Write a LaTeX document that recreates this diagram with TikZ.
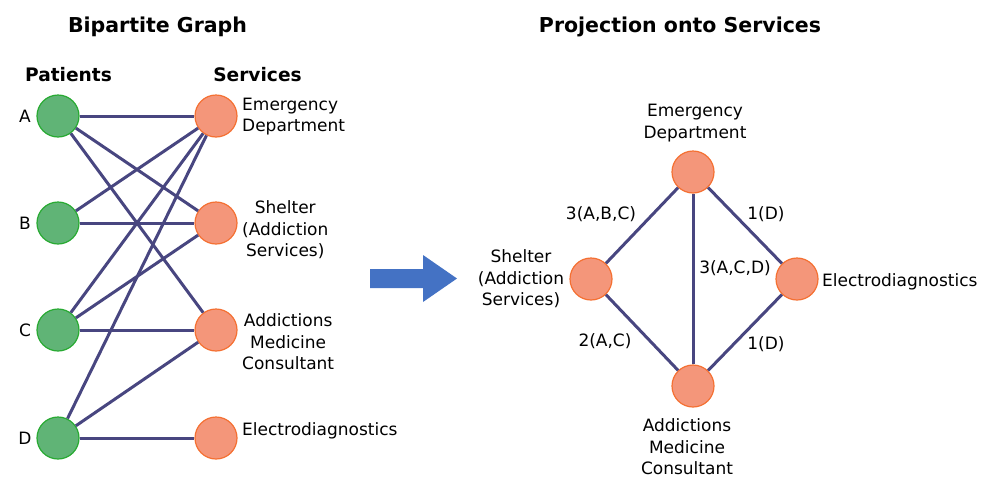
\documentclass[tikz,border=0pt]{standalone}
\usepackage{fontspec}
\setmainfont{DejaVu Sans}

\definecolor{edgeblue}{RGB}{72,70,128}
\definecolor{patfill}{RGB}{96,180,118}
\definecolor{patline}{RGB}{40,170,50}
\definecolor{servfill}{RGB}{244,150,122}
\definecolor{servline}{RGB}{244,112,50}
\definecolor{arrowblue}{RGB}{68,114,196}

\tikzset{
    patient/.style={circle, fill=patfill, draw=patline, line width=1.2pt, minimum size=42pt, inner sep=0pt},
    service/.style={circle, fill=servfill, draw=servline, line width=1.2pt, minimum size=42pt, inner sep=0pt},
    link/.style={draw=edgeblue, line width=3pt},
    lbl/.style={font=\fontsize{17}{21.5}\selectfont, inner sep=0pt},
    heading/.style={font=\bfseries\fontsize{18.6}{22}\selectfont, inner sep=0pt},
    title/.style={font=\bfseries\fontsize{20.5}{24}\selectfont, inner sep=0pt, anchor=base}
}

\begin{document}
\begin{tikzpicture}[x=1pt, y=-1pt]
    \useasboundingbox (0,0) rectangle (987,477);

    % Headings
    \node[title] (htitleL) at (157.5,32) {Bipartite Graph};
    \node[title] (htitleR) at (680,32) {Projection onto Services};
    \node[heading] (hpat) at (68.5,75) {Patients};
    \node[heading] (hserv) at (257.5,75) {Services};

    % Patients
    \node[patient] (pa) at (58,116) {};
    \node[patient] (pb) at (58,223) {};
    \node[patient] (pc) at (58,330) {};
    \node[patient] (pd) at (58,438) {};
    \node[lbl] (la) at (25,116) {A};
    \node[lbl] (lb) at (25,223) {B};
    \node[lbl] (lc) at (25,330) {C};
    \node[lbl] (ld) at (25,438) {D};

    % Services
    \node[service] (sed) at (216,116) {};
    \node[service] (ssh) at (216,223) {};
    \node[service] (sam) at (216,330) {};
    \node[service] (sel) at (216,438) {};
    \node[lbl, anchor=west, align=left] (ted) at (242,116.5) {Emergency\\Department};
    \node[lbl, anchor=west, align=center] (tsh) at (242,230) {Shelter\\(Addiction\\Services)};
    \node[lbl, anchor=west, align=center] (tam) at (242,342) {Addictions\\Medicine\\Consultant};
    \node[lbl, anchor=west] (tel) at (242,431) {Electrodiagnostics};

    % Bipartite edges
    \draw[link] (pa) -- (sed);
    \draw[link] (pa) -- (ssh);
    \draw[link] (pa) -- (sam);
    \draw[link] (pb) -- (sed);
    \draw[link] (pb) -- (ssh);
    \draw[link] (pc) -- (sed);
    \draw[link] (pc) -- (ssh);
    \draw[link] (pc) -- (sam);
    \draw[link] (pd) -- (sed);
    \draw[link] (pd) -- (sam);
    \draw[link] (pd) -- (sel);

    % Arrow
    \fill[arrowblue] (370,269) -- (423,269) -- (423,255) -- (457,278.5)
        -- (423,302) -- (423,288) -- (370,288) -- cycle;

    % Projection
    \node[service] (ped) at (693,172) {};
    \node[service] (psh) at (591,279) {};
    \node[service] (pel) at (797,279) {};
    \node[service] (pam) at (693,386) {};
    \node[lbl, align=center] (qed) at (695,123) {Emergency\\Department};
    \node[lbl, align=center] (qsh) at (521,279) {Shelter\\(Addiction\\Services)};
    \node[lbl, anchor=west] (qel) at (822,282) {Electrodiagnostics};
    \node[lbl, align=center] (qam) at (687,447) {Addictions\\Medicine\\Consultant};

    \draw[link] (ped) -- (psh);
    \draw[link] (ped) -- (pam);
    \draw[link] (ped) -- (pel);
    \draw[link] (psh) -- (pam);
    \draw[link] (pam) -- (pel);

    % Weights
    \node[lbl] (w1) at (601,214) {3(A,B,C)};
    \node[lbl] (w2) at (766,214) {1(D)};
    \node[lbl] (w3) at (735,268) {3(A,C,D)};
    \node[lbl] (w4) at (605,341) {2(A,C)};
    \node[lbl] (w5) at (766,344) {1(D)};
\end{tikzpicture}
\end{document}
